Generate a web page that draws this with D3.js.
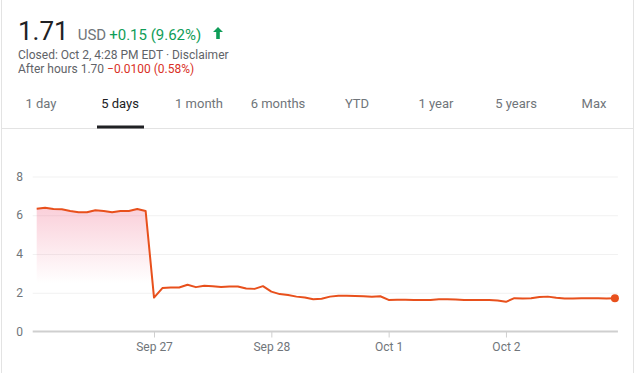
<!DOCTYPE html>
<meta charset="utf-8">
<style>
  body { margin: 0; background: #fff; font-family: Roboto, Arial, sans-serif; }
  svg text { font-family: Roboto, Arial, sans-serif; }
</style>
<body>
<script src="https://cdn.jsdelivr.net/npm/d3@7"></script>
<script>

// price points, 14 per trading day (Sep 26 .. Oct 2)
var prices = [
  6.34, 6.39, 6.32, 6.31, 6.22, 6.15, 6.15, 6.26, 6.22, 6.15, 6.22, 6.22, 6.32, 6.22,
  1.75, 2.24, 2.27, 2.27, 2.41, 2.29, 2.36, 2.34, 2.30, 2.32, 2.32, 2.22, 2.20, 2.34,
  2.06, 1.93, 1.88, 1.80, 1.75, 1.67, 1.69, 1.80, 1.85, 1.84, 1.83, 1.82, 1.79, 1.82,
  1.63, 1.64, 1.64, 1.63, 1.62, 1.63, 1.66, 1.66, 1.65, 1.63, 1.62, 1.62, 1.62, 1.60,
  1.53, 1.72, 1.70, 1.72, 1.78, 1.80, 1.74, 1.70, 1.70, 1.71, 1.72, 1.71, 1.70, 1.71
];
var dayLabels = ["Sep 27", "Sep 28", "Oct 1", "Oct 2"];
var dayStarts = [14, 28, 42, 56];
var yTicks = [0, 2, 4, 6, 8];
var tabs = ["1 day", "5 days", "1 month", "6 months", "YTD", "1 year", "5 years", "Max"];
var tabCenters = [41, 120, 199, 278, 357, 436, 516, 594];

var W = 635, H = 373;
var svg = d3.select("body").append("svg")
    .attr("width", W)
    .attr("height", H);

// panel borders
svg.append("line").attr("x1", 1.5).attr("x2", 1.5).attr("y1", 0).attr("y2", H)
    .attr("stroke", "#e3e3e3");
svg.append("line").attr("x1", 633.5).attr("x2", 633.5).attr("y1", 0).attr("y2", H)
    .attr("stroke", "#e3e3e3");

// header
var head = svg.append("text").attr("x", 18).attr("y", 40);
head.append("tspan").attr("font-size", "26px").attr("fill", "#202124").text("1.71");
head.append("tspan").attr("dx", 9).attr("font-size", "15px").attr("fill", "#70757a").text("USD");
head.append("tspan").attr("dx", 3).attr("font-size", "15px").attr("fill", "#0f9d58").text("+0.15 (9.62%)");

// up arrow
svg.append("path")
    .attr("d", "M218,27 l-5,5 h3.2 v7 h3.6 v-7 h3.2 z")
    .attr("fill", "#0f9d58");

svg.append("text").attr("x", 18).attr("y", 59)
    .attr("font-size", "12px").attr("fill", "#5f6368")
    .text("Closed: Oct 2, 4:28 PM EDT \u00b7 Disclaimer");
var ah = svg.append("text").attr("x", 18).attr("y", 73).attr("font-size", "12px");
ah.append("tspan").attr("fill", "#5f6368").text("After hours 1.70 ");
ah.append("tspan").attr("fill", "#d93025").text("\u22120.0100 (0.58%)");

// tabs
svg.selectAll(".tab")
    .data(tabs)
  .enter().append("text")
    .attr("class", "tab")
    .attr("x", function(d, i) { return tabCenters[i]; })
    .attr("y", 108)
    .attr("text-anchor", "middle")
    .attr("font-size", "13px")
    .attr("fill", function(d) { return d == "5 days" ? "#202124" : "#70757a"; })
    .text(function(d) { return d; });

svg.append("line").attr("x1", 1.5).attr("x2", 633.5).attr("y1", 128.5).attr("y2", 128.5)
    .attr("stroke", "#e3e3e3");
svg.append("rect").attr("x", 97).attr("y", 125.5).attr("width", 47).attr("height", 3)
    .attr("fill", "#202124");

// scales
var x = d3.scaleLinear().domain([0, prices.length - 1]).range([36.7, 614.9]);
var y = d3.scaleLinear().domain([0, 8]).range([331.5, 176.5]);

// gridlines
svg.selectAll(".grid")
    .data(yTicks.slice(1))
  .enter().append("line")
    .attr("x1", x(0) - 4).attr("x2", x(prices.length - 1) + 3)
    .attr("y1", function(d) { return y(d) + 0.5; })
    .attr("y2", function(d) { return y(d) + 0.5; })
    .attr("stroke", "#f1f1f1");

// y labels
svg.selectAll(".ylab")
    .data(yTicks)
  .enter().append("text")
    .attr("x", 23)
    .attr("y", function(d) { return y(d) + 4; })
    .attr("text-anchor", "end")
    .attr("font-size", "12px")
    .attr("fill", "#70757a")
    .text(function(d) { return d; });

// gradient fill
var defs = svg.append("defs");
var grad = defs.append("linearGradient")
    .attr("id", "fill")
    .attr("gradientUnits", "userSpaceOnUse")
    .attr("x1", 0).attr("x2", 0)
    .attr("y1", y(6.4)).attr("y2", y(2.5));
grad.append("stop").attr("offset", 0).attr("stop-color", "#f06a8a").attr("stop-opacity", 0.32);
grad.append("stop").attr("offset", 1).attr("stop-color", "#f06a8a").attr("stop-opacity", 0);

var area = d3.area()
    .x(function(d, i) { return x(i); })
    .y0(y(0))
    .y1(function(d) { return y(d); });

svg.append("path")
    .datum(prices)
    .attr("d", area)
    .attr("fill", "url(#fill)");

// x axis
svg.append("line")
    .attr("x1", x(0) - 4).attr("x2", x(prices.length - 1) + 3)
    .attr("y1", y(0)).attr("y2", y(0))
    .attr("stroke", "#cfcfcf").attr("stroke-width", 2);

var xAxis = svg.append("g")
    .attr("transform", "translate(0," + y(0) + ")")
    .call(d3.axisBottom(x)
      .tickValues(dayStarts)
      .tickSize(6)
      .tickSizeOuter(0)
      .tickFormat(function(d, i) { return dayLabels[i]; }));
xAxis.select(".domain").remove();
xAxis.selectAll(".tick line").attr("stroke", "#cfcfcf");
xAxis.selectAll(".tick text")
    .attr("fill", "#70757a")
    .attr("font-size", "12px")
    .attr("font-family", "Roboto, Arial, sans-serif")
    .attr("dy", "0.9em");

// price line
var line = d3.line()
    .x(function(d, i) { return x(i); })
    .y(function(d) { return y(d); });

svg.append("path")
    .datum(prices)
    .attr("d", line)
    .attr("fill", "none")
    .attr("stroke", "#e8501c")
    .attr("stroke-width", 2)
    .attr("stroke-linejoin", "round");

svg.append("circle")
    .attr("cx", x(prices.length - 1))
    .attr("cy", y(prices[prices.length - 1]))
    .attr("r", 4)
    .attr("fill", "#e8501c");

</script>
</body>
